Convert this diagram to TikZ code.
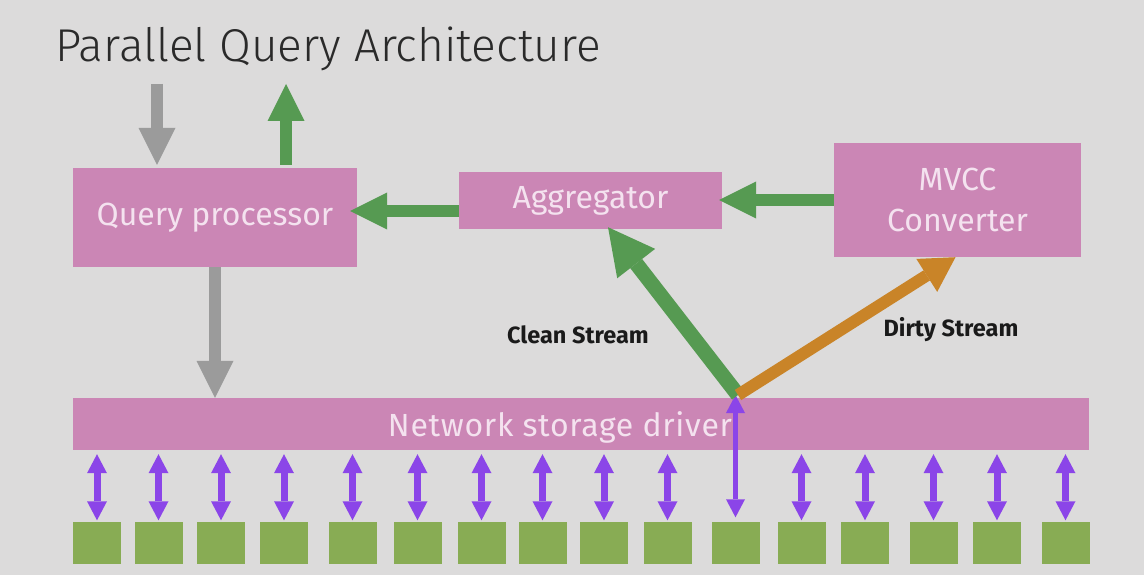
\documentclass[tikz,border=0pt]{standalone}
\usepackage{fontspec}
\setmainfont{Fira Sans}
\newfontfamily\titlefont{Fira Sans Light}
\newfontfamily\nsdfont{Fira Sans}[LetterSpace=2.2]
\usetikzlibrary{arrows.meta,calc}
\definecolor{bg}{HTML}{DCDBDB}
\definecolor{boxpink}{HTML}{CB86B5}
\definecolor{boxtext}{HTML}{F4E2EF}
\definecolor{agreen}{HTML}{569A52}
\definecolor{sqgreen}{HTML}{88AC54}
\definecolor{apurple}{HTML}{8B45E8}
\definecolor{aorange}{HTML}{C98428}
\definecolor{agray}{HTML}{9B9B9B}
\definecolor{titlegray}{HTML}{2A2A2A}
\definecolor{labelblack}{HTML}{1A1A1A}
\tikzset{
  box/.style={fill=boxpink, draw=none, inner sep=0pt, text=boxtext, align=center,
    font=\fontsize{32}{41}\selectfont},
  boxlabel/.style={inner sep=0pt, text=boxtext, font=\nsdfont\fontsize{32}{41}\selectfont},
  sq/.style={fill=sqgreen, draw=none, minimum width=48pt, minimum height=42pt, inner sep=0pt},
  grayarrow/.style={draw=agray, line width=12.5pt, -{Triangle[width=37pt,length=37pt,line width=0pt]}},
  greenbig/.style={draw=agreen, line width=12.5pt, -{Triangle[width=37pt,length=37pt,line width=0pt]}},
  greenclean/.style={draw=agreen, line width=15pt, -{Triangle[width=48pt,length=46pt,line width=0pt]}},
  orangearrow/.style={draw=aorange, line width=12pt, -{Triangle[width=39pt,length=34pt,line width=0pt]}},
  purplearrow/.style={draw=apurple, line width=7pt,
    {Triangle[width=20pt,length=19pt,line width=0pt]}-{Triangle[width=20pt,length=19pt,line width=0pt]}},
  longpurple/.style={draw=apurple, line width=5.5pt,
    {Triangle[width=19pt,length=18pt,line width=0pt]}-{Triangle[width=19pt,length=18pt,line width=0pt]}},
  streamlabel/.style={inner sep=0pt, text=labelblack, font=\bfseries\fontsize{23.5}{27}\selectfont},
}
\begin{document}
\begin{tikzpicture}[x=1pt,y=-1pt]
\fill[bg] (0,0) rectangle (1144,575);
\useasboundingbox (0,0) rectangle (1144,575);

\node[anchor=base west, inner sep=0pt, text=titlegray, font=\titlefont\fontsize{46}{50}\selectfont] (title) at (55,62) {Parallel Query Architecture};

\node[box, minimum width=284pt, minimum height=99pt] (qp) at (215,217.5) {Query processor};
\node[box, minimum width=263pt, minimum height=57pt] (agg) at (590.5,200.5) {\raisebox{-3pt}{Aggregator}};
\node[box, minimum width=247pt, minimum height=114pt] (mvcc) at (957.5,200) {MVCC\\Converter};
\node[box, minimum width=1016pt, minimum height=52pt] (nsd) at (581,424) {};
\node[boxlabel] (nsdlabel) at (560,427) {Network storage driver};

\node[streamlabel] (clean) at (578,335) {Clean Stream};
\node[streamlabel] (dirty) at (951,330) {Dirty Stream};

\coordinate (gin) at (157,84);
\coordinate (gout) at (286,84);
\coordinate (split) at (738,395);

\draw[grayarrow, shorten >=3pt] (gin) -- (gin |- qp.north);
\draw[greenbig, shorten <=3pt] (gout |- qp.north) -- (gout);
\draw[grayarrow] (qp.south) -- (qp.south |- nsd.north);
\draw[greenbig, shorten >=-7pt] ([yshift=-10.5pt]agg.west) -- ([yshift=-10.5pt]agg.west -| qp.east);
\draw[greenbig, shorten >=-3pt] (mvcc.west) -- (mvcc.west -| agg.east);

\foreach \i/\x in {1/97,2/158.5,3/221,4/284,5/352.5,6/417.5,7/481.5,8/542.5,9/604,10/667.5,11/735.5,12/801.5,13/865,14/933.5,15/997,16/1065.5}
  \node[sq] (s\i) at (\x,542.5) {};

\foreach \i in {1,...,10,12,13,14,15,16}
  \draw[purplearrow, shorten <=1pt, shorten >=4pt] (s\i.north) -- (s\i.north |- nsd.south);
\draw[longpurple, shorten <=4pt] (s11.north) -- (s11.north |- split);

\draw[greenclean] (split) -- ([xshift=17.5pt,yshift=2pt]agg.south);
\draw[orangearrow] (split) -- ([xshift=-2pt]mvcc.south);
\end{tikzpicture}
\end{document}
